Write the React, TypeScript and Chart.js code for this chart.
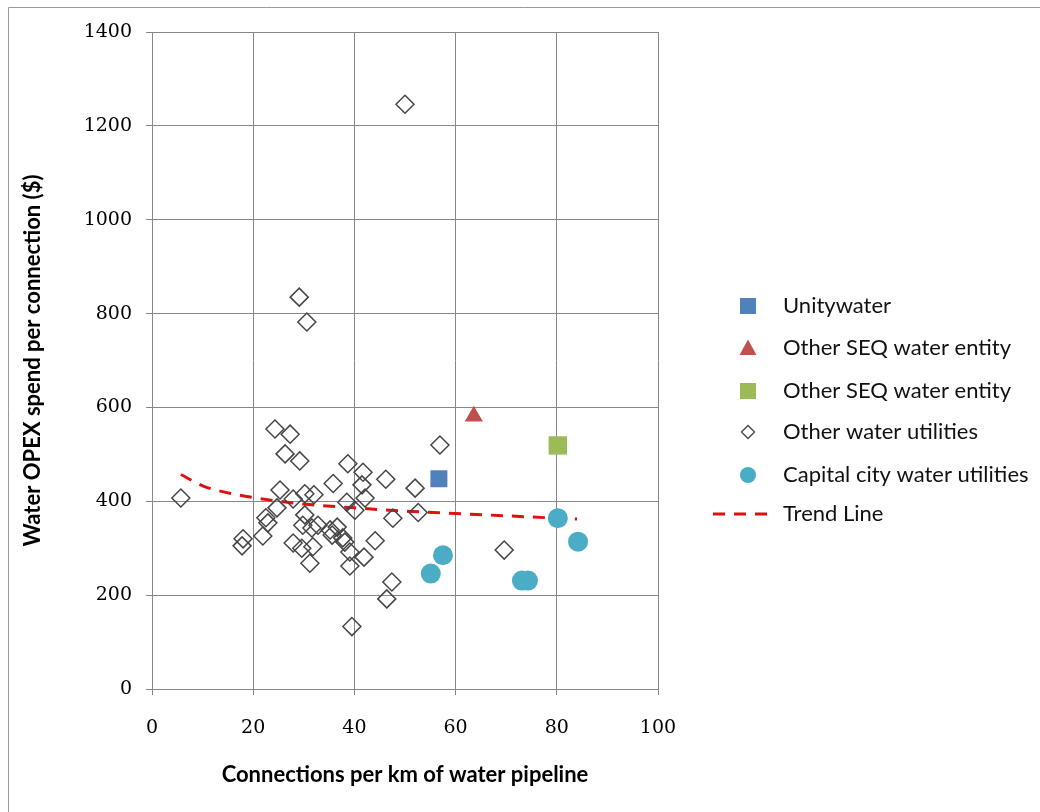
import React, { useEffect, useRef } from 'react';
import { Chart, registerables } from 'chart.js';

Chart.register(...registerables);

// ---- Data ----
const unityX = [56.7];
const unityY = [448];

const seqTriX = [63.6];
const seqTriY = [581];

const seqSqX = [80.2];
const seqSqY = [519];

const otherX = [
  50.0, 29.1, 30.6, 24.3, 27.3, 26.3, 29.2, 38.7, 35.8, 25.3,
  30.2, 32.0, 5.7, 27.9, 24.7, 22.5, 22.9, 21.9, 18.0, 17.8,
  30.2, 29.8, 31.6, 32.8, 27.9, 29.6, 31.8, 31.2, 35.2, 36.6,
  35.6, 38.1, 39.1, 39.5, 41.7, 41.5, 46.2, 52.0, 42.1, 38.5,
  40.1, 52.6, 47.6, 37.7, 44.1, 39.1, 41.9, 47.4, 46.4, 56.9,
  69.6,
];
const otherY = [
  1246, 835, 782, 554, 543, 501, 486, 480, 438, 424,
  416, 414, 407, 405, 386, 365, 354, 326, 320, 305,
  371, 349, 343, 349, 311, 300, 303, 268, 339, 345,
  328, 313, 262, 133, 462, 435, 447, 428, 407, 398,
  381, 376, 364, 322, 316, 292, 281, 228, 192, 520,
  296,
];

const capitalX = [55.1, 57.5, 73.1, 74.3, 80.2, 84.2];
const capitalY = [246, 285, 231, 231, 364, 314];

const trendX = [5.7, 10, 15, 20, 30, 40, 50, 60, 70, 84];
const trendY = [457, 433, 418, 408, 394, 386, 379, 374, 369, 362];

const xTicks = [0, 20, 40, 60, 80, 100];
const yTicks = [0, 200, 400, 600, 800, 1000, 1200, 1400];

const seriesLabels = [
  'Unitywater',
  'Other SEQ water entity',
  'Other SEQ water entity',
  'Other water utilities',
  'Capital city water utilities',
  'Trend Line',
];

const xTitle = 'Connections per km of water pipeline';
const yTitle = 'Water OPEX spend per connection ($)';

const pts = (xs: number[], ys: number[]) => xs.map((x, i) => ({ x, y: ys[i] }));

const BLUE = '#4F81BD';
const RED = '#C0504D';
const GREEN = '#9BBB59';
const TEAL = '#4BACC6';
const DIAMOND = '#454545';
const TREND = '#E01010';
const GRID = '#878787';

const legendPlugin = {
  id: 'customLegend',
  afterDraw(chart: any) {
    const ctx = chart.ctx as CanvasRenderingContext2D;
    const rows = [306, 348, 391, 432, 475, 514];
    const mx = 748;
    const tx = 783;
    ctx.save();
    ctx.font = '22px Lato, "Open Sans", sans-serif';
    ctx.fillStyle = '#111';
    ctx.textBaseline = 'middle';
    ctx.textAlign = 'left';
    chart.data.datasets.forEach((ds: any, i: number) => {
      const y = rows[i];
      ctx.save();
      if (i === 0 || i === 2) {
        ctx.fillStyle = ds.backgroundColor;
        ctx.fillRect(mx - 8, y - 8, 16, 16);
      } else if (i === 1) {
        ctx.fillStyle = ds.backgroundColor;
        ctx.beginPath();
        ctx.moveTo(mx, y - 8.5);
        ctx.lineTo(mx + 8.5, y + 7);
        ctx.lineTo(mx - 8.5, y + 7);
        ctx.closePath();
        ctx.fill();
      } else if (i === 3) {
        ctx.strokeStyle = ds.borderColor;
        ctx.lineWidth = 1.3;
        ctx.beginPath();
        ctx.moveTo(mx - 6.5, y);
        ctx.lineTo(mx, y - 6.5);
        ctx.lineTo(mx + 6.5, y);
        ctx.lineTo(mx, y + 6.5);
        ctx.closePath();
        ctx.stroke();
      } else if (i === 4) {
        ctx.fillStyle = ds.backgroundColor;
        ctx.beginPath();
        ctx.arc(mx, y, 8, 0, Math.PI * 2);
        ctx.fill();
      } else {
        ctx.strokeStyle = ds.borderColor;
        ctx.lineWidth = 3;
        ctx.setLineDash([12, 9]);
        ctx.beginPath();
        ctx.moveTo(713, y);
        ctx.lineTo(767, y);
        ctx.stroke();
      }
      ctx.restore();
      ctx.fillText(ds.label, tx, y);
    });
    ctx.restore();
  },
};

const framePlugin = {
  id: 'frame',
  beforeDraw(chart: any) {
    const ctx = chart.ctx as CanvasRenderingContext2D;
    ctx.save();
    ctx.fillStyle = '#ffffff';
    ctx.fillRect(0, 0, chart.width, chart.height);
    ctx.strokeStyle = '#9a9a9a';
    ctx.lineWidth = 1;
    ctx.beginPath();
    ctx.moveTo(8.5, chart.height);
    ctx.lineTo(8.5, 7.5);
    ctx.lineTo(chart.width, 7.5);
    ctx.stroke();
    ctx.restore();
  },
};

export default function App() {
  const ref = useRef<HTMLCanvasElement>(null);

  useEffect(() => {
    if (!ref.current) return;
    const tickFont = { family: '"DejaVu Serif", serif', size: 19 };
    const titleFont = { family: 'Lato, "Open Sans", sans-serif', size: 22, weight: 'bold' as const };
    const fmt = (v: any) => String(v);
    const chart = new Chart(ref.current, {
      type: 'scatter',
      data: {
        datasets: [
          {
            label: seriesLabels[0],
            data: pts(unityX, unityY),
            pointStyle: 'rect',
            pointRadius: 12,
            backgroundColor: BLUE,
            borderColor: BLUE,
            borderWidth: 0,
          },
          {
            label: seriesLabels[1],
            data: pts(seqTriX, seqTriY),
            pointStyle: 'triangle',
            pointRadius: 10.5,
            backgroundColor: RED,
            borderColor: RED,
            borderWidth: 0,
          },
          {
            label: seriesLabels[2],
            data: pts(seqSqX, seqSqY),
            pointStyle: 'rect',
            pointRadius: 13,
            backgroundColor: GREEN,
            borderColor: GREEN,
            borderWidth: 0,
          },
          {
            label: seriesLabels[3],
            data: pts(otherX, otherY),
            pointStyle: 'rectRot',
            pointRadius: 9,
            backgroundColor: 'rgba(255,255,255,0)',
            borderColor: DIAMOND,
            borderWidth: 1.5,
          },
          {
            label: seriesLabels[4],
            data: pts(capitalX, capitalY),
            pointStyle: 'circle',
            pointRadius: 10,
            backgroundColor: TEAL,
            borderColor: TEAL,
            borderWidth: 0,
          },
          {
            type: 'line' as const,
            label: seriesLabels[5],
            data: pts(trendX, trendY),
            showLine: true,
            pointRadius: 0,
            borderColor: TREND,
            borderWidth: 3,
            borderDash: [12, 9],
            cubicInterpolationMode: 'monotone' as const,
            fill: false,
          },
        ] as any,
      },
      options: {
        responsive: false,
        animation: false,
        devicePixelRatio: 1,
        events: [],
        layout: { padding: { left: 0, right: 382, top: 32, bottom: 0 } },
        plugins: {
          legend: { display: false },
          tooltip: { enabled: false },
        },
        scales: {
          x: {
            type: 'linear',
            min: 0,
            max: 100,
            afterBuildTicks: (s: any) => {
              s.ticks = xTicks.map((v) => ({ value: v }));
            },
            afterFit: (s: any) => {
              s.height = 123;
            },
            ticks: { font: tickFont, color: '#000', padding: 22, maxRotation: 0, callback: fmt },
            grid: { color: GRID, lineWidth: 1, tickLength: 6, drawTicks: true },
            border: { color: GRID, width: 1 },
            title: {
              display: true,
              text: xTitle,
              font: titleFont,
              color: '#000',
              padding: { top: 0, bottom: 24 },
            },
          },
          y: {
            type: 'linear',
            min: 0,
            max: 1400,
            afterBuildTicks: (s: any) => {
              s.ticks = yTicks.map((v) => ({ value: v }));
            },
            afterFit: (s: any) => {
              s.width = 152;
            },
            ticks: { font: tickFont, color: '#000', padding: 14, callback: fmt },
            grid: { color: GRID, lineWidth: 1, tickLength: 6, drawTicks: true },
            border: { color: GRID, width: 1 },
            title: {
              display: true,
              text: yTitle,
              font: titleFont,
              color: '#000',
              padding: { top: 20, bottom: 0 },
            },
          },
        },
      },
      plugins: [framePlugin, legendPlugin],
    });
    return () => chart.destroy();
  }, []);

  return (
    <div style={{ position: 'fixed', left: 0, top: 0, width: 1040, height: 812 }}>
      <canvas ref={ref} width={1040} height={812} style={{ display: 'block' }} />
    </div>
  );
}
